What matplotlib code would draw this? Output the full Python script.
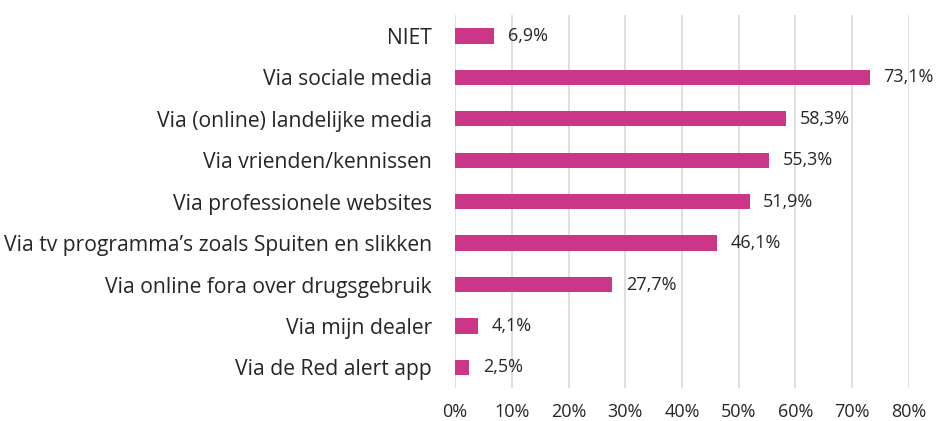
import matplotlib.pyplot as plt
from matplotlib.ticker import FuncFormatter

# Data (top to bottom as shown)
categories = [
    "NIET",
    "Via sociale media",
    "Via (online) landelijke media",
    "Via vrienden/kennissen",
    "Via professionele websites",
    "Via tv programma\u2019s zoals Spuiten en slikken",
    "Via online fora over drugsgebruik",
    "Via mijn dealer",
    "Via de Red alert app",
]
values = [6.9, 73.1, 58.3, 55.3, 51.9, 46.1, 27.7, 4.1, 2.5]
x_ticks = [0, 10, 20, 30, 40, 50, 60, 70, 80]

plt.rcParams['font.family'] = ['Open Sans', 'DejaVu Sans']

fig = plt.figure(figsize=(9.37, 4.21), dpi=100)
ax = fig.add_axes([0.4856, 0.078, 0.4845, 0.886])

pos = list(range(len(categories)))
ax.barh(pos, values, height=0.37, color='#CB3689', zorder=3)
ax.set_ylim(len(categories) - 0.5, -0.5)
ax.set_xlim(0, 80)

for p, v in zip(pos, values):
    ax.text(v + 2.4, p, f"{v:.1f}%".replace('.', ','), va='center', ha='left',
            fontsize=13, color='#262626')

ax.set_yticks(pos)
ax.set_yticklabels(categories, fontsize=15.2, color='#262626')
ax.set_xticks(x_ticks)
ax.xaxis.set_major_formatter(FuncFormatter(lambda x, _: f"{x:.0f}%"))
ax.tick_params(axis='x', labelsize=13, colors='#262626', length=0, pad=11)
ax.tick_params(axis='y', length=0, pad=16.5)

ax.grid(axis='x', color='#D9D9D9', linewidth=1.2, zorder=0)
for s in ax.spines.values():
    s.set_visible(False)

fig.savefig('out.png', dpi=100)
